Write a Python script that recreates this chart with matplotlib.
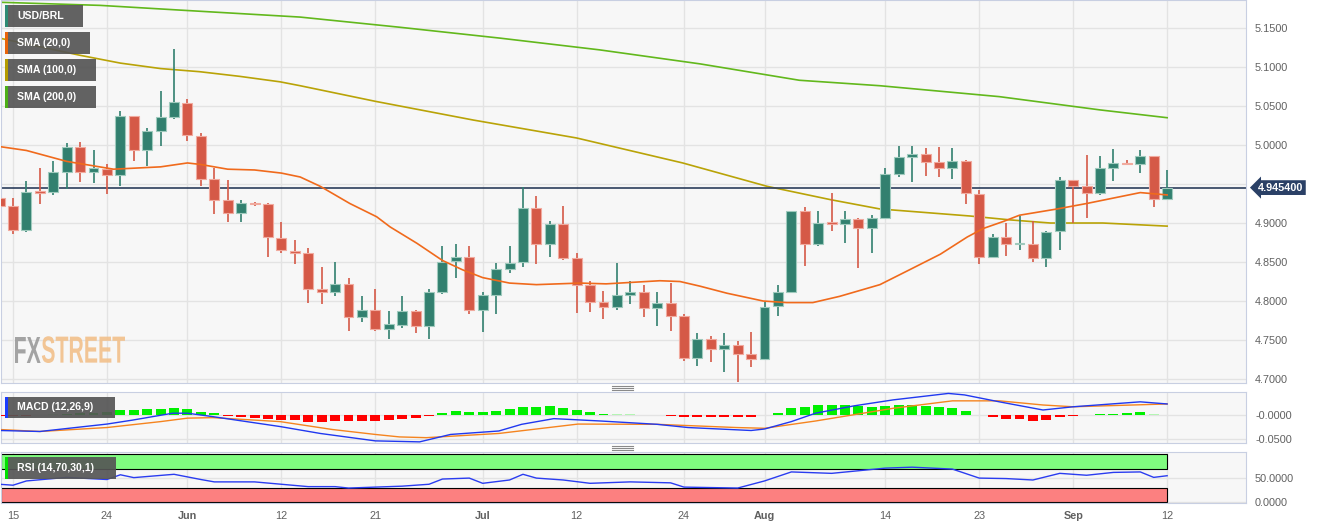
import numpy as np
import pandas as pd
import matplotlib
matplotlib.use('Agg')
import matplotlib.pyplot as plt
from matplotlib.patches import Rectangle, PathPatch
from matplotlib.textpath import TextPath
from matplotlib.font_manager import FontProperties
from matplotlib.transforms import Affine2D, blended_transform_factory

plt.rcParams['font.family'] = ['Liberation Sans', 'DejaVu Sans']

# trading days, May 12 .. Sep 12 2023 ; "day" 0 = May 15
dates = pd.bdate_range('2023-05-12', '2023-09-12')
day = np.arange(len(dates)) - 1

opens = [4.932, 4.922, 4.891, 4.941, 4.940, 4.966, 4.998, 4.966, 4.969, 4.962, 5.037, 4.994, 5.018, 5.036, 5.054,
         5.012, 4.957, 4.929, 4.913, 4.926, 4.924, 4.881, 4.864, 4.862, 4.815, 4.812, 4.822, 4.779, 4.789, 4.764,
         4.769, 4.787, 4.768, 4.811, 4.851, 4.856, 4.788, 4.808, 4.841, 4.850, 4.919, 4.873, 4.899, 4.855, 4.820,
         4.799, 4.792, 4.808, 4.811, 4.791, 4.797, 4.781, 4.727, 4.751, 4.738, 4.743, 4.732, 4.726, 4.793, 4.811,
         4.915, 4.873, 4.901, 4.899, 4.905, 4.893, 4.907, 4.963, 4.984, 4.989, 4.978, 4.970, 4.979, 4.937, 4.857,
         4.882, 4.873, 4.873, 4.855, 4.890, 4.955, 4.948, 4.938, 4.970, 4.977, 4.976, 4.986, 4.931]
closes = [4.922, 4.891, 4.940, 4.939, 4.966, 4.998, 4.966, 4.970, 4.962, 5.037, 4.994, 5.018, 5.036, 5.055, 5.013,
          4.957, 4.929, 4.913, 4.926, 4.924, 4.882, 4.865, 4.862, 4.815, 4.812, 4.822, 4.779, 4.789, 4.764, 4.770,
          4.787, 4.768, 4.811, 4.850, 4.856, 4.788, 4.808, 4.841, 4.849, 4.919, 4.873, 4.899, 4.855, 4.821, 4.799,
          4.792, 4.808, 4.811, 4.791, 4.797, 4.781, 4.727, 4.751, 4.738, 4.743, 4.732, 4.726, 4.792, 4.811, 4.915,
          4.873, 4.900, 4.899, 4.905, 4.893, 4.907, 4.963, 4.984, 4.989, 4.978, 4.970, 4.979, 4.938, 4.857, 4.882,
          4.873, 4.875, 4.855, 4.889, 4.955, 4.948, 4.938, 4.970, 4.977, 4.976, 4.986, 4.931, 4.9454]
highs = [4.955, 4.932, 4.954, 4.971, 4.980, 5.003, 5.004, 4.994, 4.976, 5.044, 5.037, 5.022, 5.069, 5.123, 5.059,
         5.015, 4.970, 4.955, 4.930, 4.927, 4.926, 4.901, 4.878, 4.868, 4.844, 4.850, 4.829, 4.807, 4.816, 4.787,
         4.806, 4.788, 4.815, 4.871, 4.873, 4.870, 4.811, 4.849, 4.870, 4.946, 4.935, 4.903, 4.922, 4.861, 4.826,
         4.813, 4.849, 4.826, 4.820, 4.811, 4.823, 4.783, 4.759, 4.755, 4.759, 4.749, 4.760, 4.799, 4.821, 4.915,
         4.920, 4.915, 4.939, 4.915, 4.906, 4.910, 4.971, 4.999, 4.999, 4.996, 4.997, 4.996, 4.981, 4.942, 4.886,
         4.900, 4.909, 4.903, 4.890, 4.959, 4.955, 4.987, 4.986, 4.995, 4.981, 4.994, 4.986, 4.968]
lows = [4.910, 4.886, 4.888, 4.924, 4.936, 4.944, 4.953, 4.951, 4.937, 4.947, 4.979, 4.973, 4.999, 5.033, 5.005,
        4.947, 4.912, 4.901, 4.901, 4.922, 4.856, 4.861, 4.848, 4.797, 4.796, 4.807, 4.762, 4.773, 4.762, 4.751,
        4.766, 4.759, 4.751, 4.809, 4.829, 4.783, 4.760, 4.783, 4.836, 4.844, 4.848, 4.856, 4.853, 4.784, 4.786,
        4.777, 4.789, 4.796, 4.779, 4.768, 4.761, 4.723, 4.717, 4.722, 4.709, 4.696, 4.715, 4.724, 4.781, 4.811,
        4.845, 4.870, 4.890, 4.874, 4.842, 4.862, 4.905, 4.959, 4.952, 4.960, 4.959, 4.957, 4.925, 4.847, 4.857,
        4.858, 4.865, 4.850, 4.844, 4.866, 4.900, 4.907, 4.936, 4.954, 4.974, 4.964, 4.921, 4.931]

sma20_day = [-1, 1, 4, 7.5, 11, 13, 14, 16, 18, 20, 21.4, 22.9, 25.1, 27.1, 28.1, 30.1, 32, 33.5, 35, 37, 39,
             42.25, 44.2, 48.2, 49.7, 51.2, 53.2, 55.9, 57.65, 59.6, 61.6, 64.6, 66.8, 69.1, 71.1, 72.3, 73.8,
             75, 77.8, 80, 82, 84, 86]
sma20_val = [4.998, 4.993, 4.979, 4.969, 4.972, 4.977, 4.975, 4.969, 4.968, 4.964, 4.959, 4.947, 4.925, 4.908,
             4.895, 4.874, 4.852, 4.840, 4.830, 4.823, 4.821, 4.823, 4.822, 4.826, 4.825, 4.819, 4.810, 4.800,
             4.798, 4.798, 4.806, 4.821, 4.840, 4.860, 4.882, 4.893, 4.902, 4.910, 4.918, 4.925, 4.932, 4.939, 4.936]
sma100_day = [-1, 2, 5, 8, 11, 13.9, 16.9, 19.9, 21.4, 27, 34.3, 42, 49.9, 56.2, 60.9, 64.6, 71.3, 74.3, 77.3,
              81.2, 86]
sma100_val = [5.137, 5.126, 5.115, 5.105, 5.098, 5.094, 5.088, 5.081, 5.076, 5.056, 5.032, 5.009, 4.977, 4.947,
              4.930, 4.918, 4.909, 4.904, 4.900, 4.900, 4.896]
sma200_day = [-1, 6.5, 12.4, 21.4, 28.8, 36.3, 43.7, 51.2, 58.6, 64.6, 73.5, 81, 86]
sma200_val = [5.183, 5.179, 5.173, 5.164, 5.151, 5.137, 5.122, 5.104, 5.083, 5.076, 5.062, 5.045, 5.035]

macd_hist = [-0.002, -0.002, -0.002, -0.001, 0.001, 0.002, 0.003, 0.004, 0.006, 0.010, 0.010, 0.011, 0.012,
             0.0135, 0.011, 0.006, 0.003, -0.003, -0.005, -0.007, -0.009, -0.010, -0.011, -0.014, -0.014, -0.013,
             -0.013, -0.012, -0.012, -0.0115, -0.009, -0.007, -0.003, 0.0034, 0.008, 0.006, 0.006, 0.008, 0.011,
             0.016, 0.016, 0.017, 0.014, 0.010, 0.005, 0.002, 0.0007, 0.0005, -0.0005, -0.0007, -0.002, -0.0055,
             -0.0055, -0.0055, -0.0055, -0.0055, -0.0055, -0.0007, 0.004, 0.013, 0.016, 0.019, 0.0195, 0.0195,
             0.0175, 0.016, 0.018, 0.0195, 0.020, 0.0175, 0.015, 0.013, 0.008, -0.0007, -0.0055, -0.009, -0.0095,
             -0.012, -0.0115, -0.0047, -0.002, -0.0007, 0.0013, 0.0013, 0.0034, 0.0054, 0.001, -0.0005]
macd_day = [-1, 2, 4, 7, 8.9, 11.9, 13, 14.9, 19.9, 22.9, 27, 30.3, 32.6, 36.2, 37.9, 40.3, 43.8, 48, 50.3, 55,
            56, 58, 59.8, 62.7, 65.6, 69.7, 70.9, 73.5, 76.75, 79, 84, 86]
macd_val = [-0.032, -0.034, -0.028, -0.019, -0.011, 0.003, 0.003, -0.004, -0.024, -0.038, -0.053, -0.055, -0.040,
            -0.033, -0.0195, -0.008, -0.0128, -0.0195, -0.026, -0.032, -0.029, -0.014, 0.003, 0.018, 0.030, 0.043,
            0.040, 0.026, 0.0095, 0.016, 0.026, 0.0217]
signal_day = [-1, 2, 7, 11, 13, 14.9, 19.9, 23.8, 27, 28.8, 30.8, 36.2, 42.1, 48, 53.9, 56, 59.8, 65.6, 70, 73.5,
              76.75, 79, 86]
signal_val = [-0.030, -0.034, -0.026, -0.014, -0.007, -0.006, -0.014, -0.030, -0.040, -0.045, -0.0465, -0.038,
              -0.019, -0.0195, -0.026, -0.0275, -0.0128, 0.013, 0.028, 0.028, 0.0196, 0.016, 0.0217]

rsi_day = [-1, 0, 1, 4, 7, 8, 9, 12, 14, 15, 18, 20, 22, 24, 25, 27, 29, 31, 32, 34, 35, 37, 38, 39, 41, 43, 46,
           49, 50, 54, 56, 58, 61, 65, 67, 70, 72, 74, 76, 78, 80, 82, 84, 85, 86]
rsi_val = [37, 35, 44, 51.5, 47, 57, 51, 58, 47, 42, 42, 37, 32, 32, 29, 31, 33, 37, 48, 50, 39, 46, 58, 50, 46,
           39, 42, 40, 31, 29, 44, 63, 60, 71, 73, 69, 50, 49, 46, 60, 56, 62, 63, 51.5, 55]

tick_dates = ['2023-05-15', '2023-05-24', '2023-06-01', '2023-06-12', '2023-06-21', '2023-07-03', '2023-07-12',
              '2023-07-24', '2023-08-01', '2023-08-14', '2023-08-23', '2023-09-01', '2023-09-12']
tick_labels = ['15', '24', 'Jun', '12', '21', 'Jul', '12', '24', 'Aug', '14', '23', 'Sep', '12']

W, H = 1323, 529
fig = plt.figure(figsize=(W / 100, H / 100), dpi=100)

def add_ax(top, bottom):
    return fig.add_axes([1 / W, 1 - bottom / H, 1245 / W, (bottom - top) / H])

ax = add_ax(0, 383)
ax_macd = add_ax(392, 443)
ax_rsi = add_ax(452, 503)

step = 13.42
xlim = ((1 - 13) / step, (1246 - 13) / step)
tick_days = [dates.get_loc(pd.Timestamp(d)) - 1 for d in tick_dates]

for a in (ax, ax_macd, ax_rsi):
    a.set_facecolor('#f7f7f7')
    a.set_xlim(*xlim)
    a.set_xticks(tick_days)
    a.grid(True, color='#e3e3e3', lw=1)
    a.set_axisbelow(True)
    for s in a.spines.values():
        s.set_color('#c8cfe2')
    a.yaxis.tick_right()
    a.tick_params(length=0, pad=6.5, labelsize=7.8, labelcolor='#606060')
    a.tick_params(axis='x', labelbottom=False)

# candles
opens, closes, highs, lows = map(np.array, (opens, closes, highs, lows))
up = closes >= opens
body_col = np.where(up, '#32806f', '#d55947')
edge_col = np.where(up, '#9fcabd', '#f1aa9e')
ax.vlines(day, lows, highs, colors=body_col, lw=1.2, zorder=3)
body_h = np.maximum(np.abs(closes - opens), 0.0009)
ax.bar(day, body_h, bottom=np.minimum(opens, closes), width=0.74, color=body_col,
       edgecolor=edge_col, linewidth=0.8, zorder=4)

ax.plot(sma200_day, sma200_val, color='#62b81c', lw=1.2, zorder=2)
ax.plot(sma100_day, sma100_val, color='#b9a307', lw=1.2, zorder=2)
ax.plot(sma20_day, sma20_val, color='#f06a1c', lw=1.2, zorder=5)

last = closes[-1]
ax.axhline(last, color='#2b3d5c', lw=1.2, zorder=2)
ax.set_ylim(4.6949, 5.1859)
yt = np.arange(4.70, 5.151, 0.05)
ax.set_yticks(yt)
# the 4.95 label sits under the last-price tag
ax.set_yticklabels(['' if abs(v - 4.95) < 1e-6 else '%.4f' % v for v in yt])

trans = blended_transform_factory(fig.transFigure, ax.transData)
fig.text(1258 / W, last, '%.6f' % last, transform=trans, va='center', ha='left', color='white',
         fontsize=7.8, fontweight='bold',
         bbox=dict(boxstyle='larrow,pad=0.22', fc='#2a4066', ec='none'))

# MACD
hist = np.array(macd_hist)
hcol = np.where(hist >= 0, np.where(hist < 0.0012, '#b4f5b4', '#00f000'),
                np.where(hist > -0.0012, '#f8b8b8', '#ff0000'))
ax_macd.bar(day, hist, width=0.74, color=hcol, zorder=3)
ax_macd.plot(signal_day, signal_val, color='#f5841f', lw=1, zorder=4)
ax_macd.plot(macd_day, macd_val, color='#2038f0', lw=1, zorder=5)
ax_macd.set_ylim(-0.0573, 0.0459)
ax_macd.set_yticks([0, -0.05])
ax_macd.set_yticklabels(['-0.0000', '-0.0500'])

# RSI
ax_rsi.add_patch(Rectangle((xlim[0], 70), day[-1] - xlim[0], 30, fc='#80fc80', ec='black', lw=0.8, zorder=2))
ax_rsi.add_patch(Rectangle((xlim[0], 0), day[-1] - xlim[0], 30, fc='#fc8080', ec='black', lw=0.8, zorder=2))
ax_rsi.plot(rsi_day, rsi_val, color='#2a3cf0', lw=1, zorder=4)
ax_rsi.set_ylim(-2.5, 105)
ax_rsi.set_yticks([0, 50])
ax_rsi.set_yticklabels(['0.0000', '50.0000'])
ax_rsi.tick_params(axis='x', labelbottom=True, pad=6)
ax_rsi.set_xticklabels(tick_labels)
for t in ax_rsi.get_xticklabels():
    if t.get_text().isalpha():
        t.set_fontweight('bold')

# label boxes
def label_box(x0, y0, x1, y1, stripe, text):
    fig.add_artist(Rectangle((x0 / W, 1 - y1 / H), (x1 - x0) / W, (y1 - y0) / H,
                             transform=fig.transFigure, fc='#555555', alpha=0.92, ec='none', zorder=6))
    fig.add_artist(Rectangle((x0 / W, 1 - y1 / H), 3 / W, (y1 - y0) / H,
                             transform=fig.transFigure, fc=stripe, ec='none', zorder=7))
    fig.text((x0 + 12) / W, 1 - (y0 + y1) / 2 / H, text, color='white', fontsize=7.6,
             fontweight='bold', va='center', ha='left', zorder=8)

label_box(5, 5, 83, 27, '#2e8b74', 'USD/BRL')
label_box(5, 32, 90, 54, '#e8630a', 'SMA (20,0)')
label_box(5, 59, 96, 81, '#b39b00', 'SMA (100,0)')
label_box(5, 86, 96, 108, '#4caf18', 'SMA (200,0)')
label_box(5, 397, 115, 418, '#1a3cff', 'MACD (12,26,9)')
label_box(5, 457, 116, 479, '#00e000', 'RSI (14,70,30,1)')

# panel separators
for yy in (387.5, 447.5):
    for dy in (-2, 0, 2):
        fig.add_artist(plt.Line2D([612 / W, 633 / W], [1 - (yy + dy) / H] * 2,
                                  color='#8a8a8a', lw=0.8, transform=fig.transFigure))

# watermark
fp = FontProperties(family='Liberation Sans', weight='bold')
p_fx = TextPath((0, 0), 'FX', size=1, prop=fp)
p_st = TextPath((0, 0), 'STREET', size=1, prop=fp)
e_fx, e_st = p_fx.get_extents(), p_st.get_extents()
total = e_fx.width + 0.06 + e_st.width
sx = 110 / total
sy = 26 / e_fx.height
px_to_fig = Affine2D().scale(1 / W, 1 / H) + fig.transFigure
tr_fx = Affine2D().translate(-e_fx.x0, -e_fx.y0).scale(sx, sy).translate(15, H - 363)
tr_st = Affine2D().translate(-e_st.x0 + e_fx.width + 0.06, -e_st.y0).scale(sx, sy).translate(15, H - 363)
fig.add_artist(PathPatch(tr_fx.transform_path(p_fx), fc='#9a9a9a', ec='none', alpha=0.9, transform=px_to_fig))
fig.add_artist(PathPatch(tr_st.transform_path(p_st), fc='#f2c08a', ec='none', alpha=0.9, transform=px_to_fig))

fig.savefig('out.png', dpi=100, facecolor='white')
